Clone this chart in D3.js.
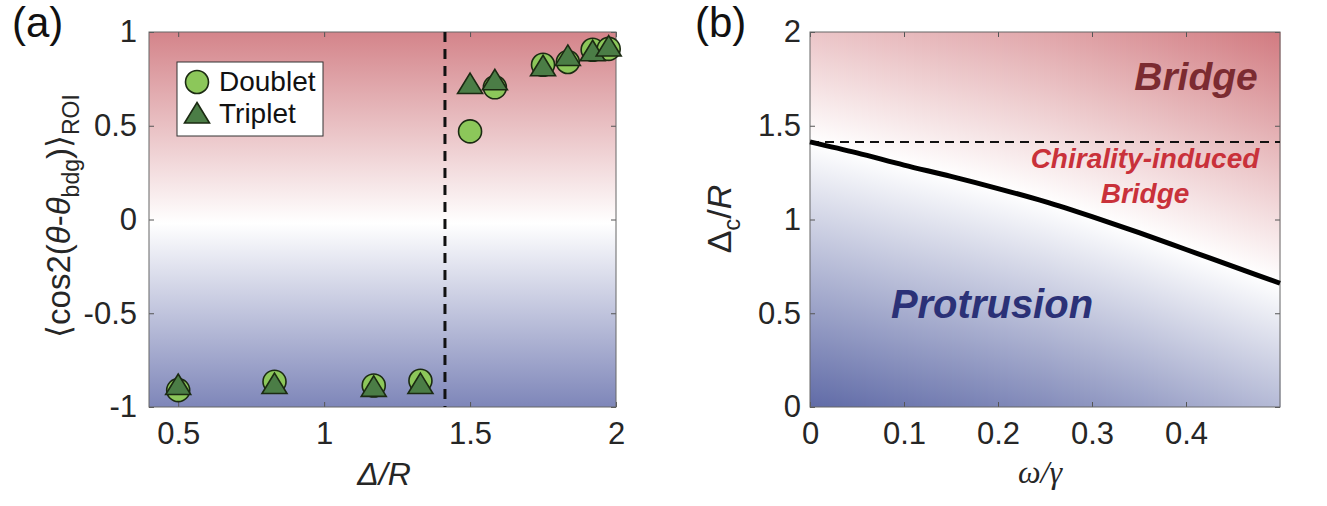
<!DOCTYPE html>
<html>
<head>
<meta charset="utf-8">
<script src="https://cdn.jsdelivr.net/npm/d3@7"></script>
<style>
  body { margin: 0; background: #fff; }
  svg { display: block; font-family: 'Liberation Sans', Arial, sans-serif; }
</style>
</head>
<body>
<svg width="1327" height="506"></svg>
<script>
// Panel (a) data: Delta/R and <cos2(theta-theta_bdg)>_ROI
var deltaR = [0.5, 0.83, 1.17, 1.33, 1.5, 1.585, 1.75, 1.835, 1.92, 1.975]
var doublet = [-0.91, -0.865, -0.885, -0.86, 0.47, 0.705, 0.825, 0.84, 0.905, 0.91]
var triplet = [-0.88, -0.875, -0.89, -0.875, 0.725, 0.745, 0.82, 0.875, 0.9, 0.925]
var xTicksA = [0.5, 1, 1.5, 2]
var yTicksA = [-1, -0.5, 0, 0.5, 1]
var critical = 1.414 // sqrt(2)

// Panel (b) data: phase boundary Delta_c/R vs omega/gamma
var omega = [0, 0.05, 0.1, 0.15, 0.2, 0.25, 0.3, 0.35, 0.4, 0.45, 0.5]
var deltaC = [1.414, 1.355, 1.29, 1.23, 1.165, 1.095, 1.015, 0.93, 0.84, 0.75, 0.66]
var xTicksB = [0, 0.1, 0.2, 0.3, 0.4]
var yTicksB = [0, 0.5, 1, 1.5, 2]

var svg = d3.select('svg')
var defs = svg.append('defs')
var tickFont = 31
var textCol = '#262626'
var fmt = d => String(d) // plain hyphen minus like matlab

// Scales
var xA = d3.scaleLinear().domain([0.4, 2]).range([149, 616])
var yA = d3.scaleLinear().domain([-1, 1]).range([407, 32])
var xB = d3.scaleLinear().domain([0, 0.5]).range([810, 1280])
var yB = d3.scaleLinear().domain([0, 2]).range([407, 32])

// ---------- panel (a) ----------
var gradA = defs.append('linearGradient')
  .attr('id', 'gradA')
  .attr('x1', 0).attr('x2', 0).attr('y1', 0).attr('y2', 1)
gradA.append('stop').attr('offset', '0%').attr('stop-color', '#d4848a')
gradA.append('stop').attr('offset', '51%').attr('stop-color', '#ffffff')
gradA.append('stop').attr('offset', '100%').attr('stop-color', '#7e86b9')

svg.append('rect')
  .attr('x', xA(0.4)).attr('y', yA(1))
  .attr('width', xA(2) - xA(0.4)).attr('height', yA(-1) - yA(1))
  .attr('fill', 'url(#gradA)')

function drawAxes(x, y, xt, yt, yPad) {
  var x0 = x.range()[0], x1 = x.range()[1]
  var y0 = y.range()[0], y1 = y.range()[1]
  svg.append('g').attr('transform', 'translate(0,' + y0 + ')')
    .call(d3.axisBottom(x).tickValues(xt).tickFormat(fmt).tickSize(-5).tickPadding(15))
  svg.append('g').attr('transform', 'translate(' + x0 + ',0)')
    .call(d3.axisLeft(y).tickValues(yt).tickFormat(fmt).tickSize(-5).tickPadding(yPad))
  svg.append('g').attr('transform', 'translate(0,' + y1 + ')')
    .call(d3.axisTop(x).tickValues(xt).tickFormat('').tickSize(-5))
  svg.append('g').attr('transform', 'translate(' + x1 + ',0)')
    .call(d3.axisRight(y).tickValues(yt).tickFormat('').tickSize(-5))
  svg.selectAll('.domain').remove()
  svg.selectAll('.tick line').attr('stroke', '#555')
  svg.selectAll('.tick text')
    .attr('font-size', tickFont)
    .attr('font-family', "'Liberation Sans', Arial, sans-serif")
    .attr('fill', textCol)
  svg.append('rect')
    .attr('x', x0).attr('y', y1)
    .attr('width', x1 - x0).attr('height', y0 - y1)
    .attr('fill', 'none').attr('stroke', '#666').attr('stroke-width', 1)
}

drawAxes(xA, yA, xTicksA, yTicksA, 12)

// critical dashed line
svg.append('line')
  .attr('x1', xA(critical)).attr('x2', xA(critical))
  .attr('y1', yA(1)).attr('y2', yA(-1))
  .attr('stroke', '#111').attr('stroke-width', 3)
  .attr('stroke-dasharray', '10,7')

var circFill = '#8cc75a'
var triFill = '#4b7d46'
var mkStroke = '#1b2a12'
var tri = 'M0,-10.5L12.5,10L-12.5,10Z'

svg.append('g').selectAll('circle')
  .data(deltaR)
  .enter()
  .append('circle')
  .attr('cx', d => xA(d))
  .attr('cy', (d, i) => yA(doublet[i]))
  .attr('r', 11.5)
  .attr('fill', circFill).attr('stroke', mkStroke).attr('stroke-width', 1.6)

svg.append('g').selectAll('path')
  .data(deltaR)
  .enter()
  .append('path')
  .attr('d', tri)
  .attr('transform', (d, i) => 'translate(' + xA(d) + ',' + yA(triplet[i]) + ')')
  .attr('fill', triFill).attr('stroke', mkStroke).attr('stroke-width', 1.6)

// legend
var leg = svg.append('g')
leg.append('rect')
  .attr('x', 177).attr('y', 62).attr('width', 146).attr('height', 74)
  .attr('fill', '#fff').attr('stroke', '#333').attr('stroke-width', 1)
leg.append('circle').attr('cx', 197).attr('cy', 82).attr('r', 11.5)
  .attr('fill', circFill).attr('stroke', mkStroke).attr('stroke-width', 1.6)
leg.append('path').attr('d', tri).attr('transform', 'translate(197,113)')
  .attr('fill', triFill).attr('stroke', mkStroke).attr('stroke-width', 1.6)
leg.append('text').attr('x', 219).attr('y', 91).attr('font-size', 28).attr('fill', '#111').text('Doublet')
leg.append('text').attr('x', 219).attr('y', 123).attr('font-size', 28).attr('fill', '#111').text('Triplet')

// axis labels (a)
svg.append('text')
  .attr('x', 384).attr('y', 485)
  .attr('text-anchor', 'middle').attr('font-size', 32).attr('font-style', 'italic')
  .attr('fill', textCol)
  .text('\u0394/R')

var yl = svg.append('text')
  .attr('transform', 'translate(70,216) rotate(-90)')
  .attr('text-anchor', 'middle').attr('font-size', 33).attr('fill', textCol)
yl.append('tspan').text('\u27E8cos2(')
yl.append('tspan').attr('font-style', 'italic').text('\u03B8')
yl.append('tspan').text('-')
yl.append('tspan').attr('font-style', 'italic').text('\u03B8')
yl.append('tspan').attr('font-size', 23).attr('dy', 9).text('bdg')
yl.append('tspan').attr('dy', -9).text(')\u27E9')
yl.append('tspan').attr('font-size', 23).attr('dy', 9).text('ROI')

svg.append('text').attr('x', 12).attr('y', 37).attr('font-size', 42).attr('fill', '#111').text('(a)')

// ---------- panel (b) ----------
var boundary = d3.scaleLinear().domain(omega).range(deltaC)
var redMax = '#cf7379'
var blueMax = '#606ba7'
var norm = critical
var colW = 2
var cols = d3.range(xB.range()[0], xB.range()[1], colW)

function mix(t) {
  if (t >= 0) return d3.interpolateRgb('#ffffff', redMax)(Math.min(t, 1))
  return d3.interpolateRgb('#ffffff', blueMax)(Math.min(-t, 1))
}

cols.forEach(function(px, i) {
  var b = boundary(xB.invert(px + colW / 2))
  var g = defs.append('linearGradient')
    .attr('id', 'gb' + i)
    .attr('gradientUnits', 'userSpaceOnUse')
    .attr('x1', 0).attr('x2', 0).attr('y1', yB(2)).attr('y2', yB(0))
  g.append('stop').attr('offset', 0).attr('stop-color', mix((2 - b) / norm))
  g.append('stop').attr('offset', (2 - b) / 2).attr('stop-color', '#ffffff')
  g.append('stop').attr('offset', 1).attr('stop-color', mix(-b / norm))
})

svg.append('g').selectAll('rect')
  .data(cols)
  .enter()
  .append('rect')
  .attr('x', d => d)
  .attr('y', yB(2))
  .attr('width', colW + 0.5)
  .attr('height', yB(0) - yB(2))
  .attr('fill', (d, i) => 'url(#gb' + i + ')')

drawAxes(xB, yB, xTicksB, yTicksB, 9)

svg.append('line')
  .attr('x1', xB(0)).attr('x2', xB(0.5))
  .attr('y1', yB(critical)).attr('y2', yB(critical))
  .attr('stroke', '#111').attr('stroke-width', 2)
  .attr('stroke-dasharray', '9,6')

var line = d3.line()
  .x((d, i) => xB(omega[i]))
  .y(d => yB(d))
  .curve(d3.curveMonotoneX)

svg.append('path')
  .datum(deltaC)
  .attr('d', line)
  .attr('fill', 'none')
  .attr('stroke', '#000')
  .attr('stroke-width', 5)

// region labels
svg.append('text')
  .attr('x', 1196).attr('y', 90)
  .attr('text-anchor', 'middle').attr('font-size', 39)
  .attr('font-weight', 'bold').attr('font-style', 'italic')
  .attr('fill', '#7b2b31')
  .text('Bridge')
svg.append('text')
  .attr('x', 1145).attr('y', 168)
  .attr('text-anchor', 'middle').attr('font-size', 28)
  .attr('font-weight', 'bold').attr('font-style', 'italic')
  .attr('fill', '#c9313a')
  .text('Chirality-induced')
svg.append('text')
  .attr('x', 1145).attr('y', 203)
  .attr('text-anchor', 'middle').attr('font-size', 28)
  .attr('font-weight', 'bold').attr('font-style', 'italic')
  .attr('fill', '#c9313a')
  .text('Bridge')
svg.append('text')
  .attr('x', 992).attr('y', 318)
  .attr('text-anchor', 'middle').attr('font-size', 40)
  .attr('font-weight', 'bold').attr('font-style', 'italic')
  .attr('fill', '#2b3177')
  .text('Protrusion')

// axis labels (b)
svg.append('text')
  .attr('x', 1040).attr('y', 483)
  .attr('text-anchor', 'middle').attr('font-size', 32).attr('font-style', 'italic')
  .attr('font-family', "'Liberation Serif', 'Times New Roman', serif")
  .attr('fill', textCol)
  .text('\u03C9/\u03B3')

var yl2 = svg.append('text')
  .attr('transform', 'translate(731,219) rotate(-90)')
  .attr('text-anchor', 'middle').attr('font-size', 34).attr('fill', textCol)
yl2.append('tspan').text('\u0394')
yl2.append('tspan').attr('font-size', 24).attr('dy', 9).text('c')
yl2.append('tspan').attr('dy', -9).text('/')
yl2.append('tspan').attr('font-style', 'italic').text('R')

svg.append('text').attr('x', 695).attr('y', 37).attr('font-size', 42).attr('fill', '#111').text('(b)')
</script>
</body>
</html>
